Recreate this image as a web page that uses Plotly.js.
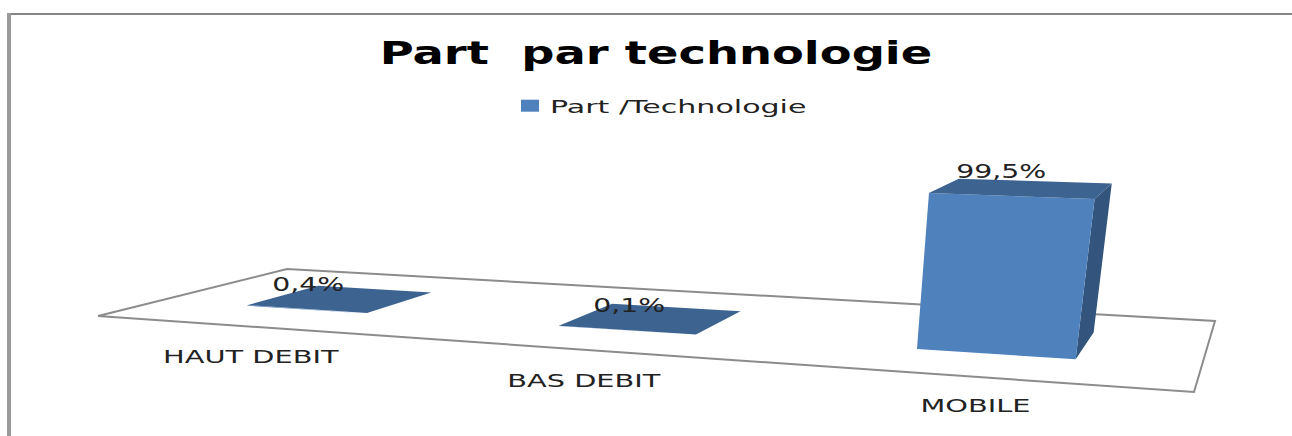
<!DOCTYPE html>
<html>
<head>
<meta charset="utf-8">
<script src="https://cdn.plot.ly/plotly-3.0.1.min.js"></script>
<style>
html,body{margin:0;padding:0;background:#fff}
#chart{width:1292px;height:436px}
.legend .scrollbox{clip-path:none !important}
</style>
</head>
<body>
<div id="chart"></div>
<script>
const categories = ['HAUT DEBIT', 'BAS DEBIT', 'MOBILE'];
const values = [0.4, 0.1, 99.5];
const valueLabels = ['0,4%', '0,1%', '99,5%'];
const seriesName = 'Part /Technologie';
const chartTitle = 'Part \u00a0par technologie';

// perspective of the 3-D floor
const floorCorners = [[98,316],[1194,392],[1215,321],[287,269]];
const vanish = [617,4248];
const barShare = 0.4, depthFront = 0.3, depthBack = 0.7;
// small screen offsets of the labels (right, down)
const valueNudge = [[-13,2],[0,3],[6,-1]];
const categoryNudge = [[3,-30],[0,-31],[1,-29]];

function homography(q){
  const [p0,p1,p2,p3] = q;
  const d1=[p1[0]-p2[0],p1[1]-p2[1]], d2=[p3[0]-p2[0],p3[1]-p2[1]];
  const S=[p0[0]-p1[0]+p2[0]-p3[0],p0[1]-p1[1]+p2[1]-p3[1]];
  const D=d1[0]*d2[1]-d2[0]*d1[1];
  const g=(S[0]*d2[1]-d2[0]*S[1])/D, h=(d1[0]*S[1]-S[0]*d1[1])/D;
  const a=p1[0]-p0[0]+g*p1[0], b=p3[0]-p0[0]+h*p3[0];
  const d=p1[1]-p0[1]+g*p1[1], e=p3[1]-p0[1]+h*p3[1];
  return (s,t)=>{const w=g*s+h*t+1;return [(a*s+b*t+p0[0])/w,(d*s+e*t+p0[1])/w];};
}
const H = homography(floorCorners);
const maxV = Math.max(...values);
// u: position along the category axis, t: depth, z: value
function project(u,t,z){
  const b = H(u/categories.length,t);
  const k = (0.04+(b[1]-349)*0.00012)*z/maxV;
  return [b[0]+(b[0]-vanish[0])*k, b[1]+(b[1]-vanish[1])*k];
}
function polys(faceFn){
  const x=[],y=[];
  values.forEach((v,i)=>{
    faceFn(i+0.5-barShare/2,i+0.5+barShare/2,v).forEach(p=>{x.push(p[0]);y.push(p[1]);});
    x.push(null);y.push(null);
  });
  return {x,y};
}
const face = (pts)=>pts.concat([pts[0]]);
const front = polys((l,r,v)=>face([project(l,depthFront,0),project(r,depthFront,0),project(r,depthFront,v),project(l,depthFront,v)]));
const side  = polys((l,r,v)=>face([project(r,depthFront,0),project(r,depthBack,0),project(r,depthBack,v),project(r,depthFront,v)]));
const top_  = polys((l,r,v)=>face([project(l,depthFront,v),project(r,depthFront,v),project(r,depthBack,v),project(l,depthBack,v)]));
const n = categories.length;
const floor = face([project(0,0,0),project(n,0,0),project(n,1,0),project(0,1,0)]);

const poly = (o,color)=>({x:o.x,y:o.y,type:'scatter',mode:'lines',fill:'toself',fillcolor:color,
  line:{width:0,color:color},hoverinfo:'skip',showlegend:false});
const traces = [
  {x:floor.map(p=>p[0]),y:floor.map(p=>p[1]),type:'scatter',mode:'lines',fill:'toself',fillcolor:'#ffffff',
   line:{width:2,color:'#8c8c8c'},hoverinfo:'skip',showlegend:false},
  poly(side,'#32547d'),
  poly(front,'#4f81bd'),
  poly(top_,'#3d6391'),
  {x:[null],y:[null],type:'bar',name:seriesName,marker:{color:'#4f81bd'},showlegend:true}
];

const annotations = [];
categories.forEach((c,i)=>{
  const p = project(i+0.5,0,0);
  annotations.push({x:p[0],y:p[1],xref:'x',yref:'y',text:c,showarrow:false,
    xshift:categoryNudge[i][0],yshift:categoryNudge[i][1],xanchor:'center',yanchor:'middle',
    font:{family:'DejaVu Sans',size:18,color:'#222'}});
  const q = project(i+0.5-0.07,0.5,values[i]);
  annotations.push({x:q[0],y:q[1],xref:'x',yref:'y',text:valueLabels[i],showarrow:false,
    xshift:valueNudge[i][0],yshift:15-valueNudge[i][1],xanchor:'center',yanchor:'middle',
    font:{family:'DejaVu Sans',size:19,color:'#222'}});
});

const layout = {
  width:1292,height:436,margin:{l:0,r:0,t:0,b:0},
  paper_bgcolor:'#fff',plot_bgcolor:'#fff',
  title:{text:chartTitle,x:656/1292,xanchor:'center',xref:'paper',y:1-53/436,yanchor:'middle',yref:'paper',
    font:{family:'DejaVu Sans',size:32,weight:700,color:'#000'}},
  xaxis:{range:[0,1292],visible:false,fixedrange:true},
  yaxis:{range:[436,0],visible:false,fixedrange:true},
  showlegend:true,
  legend:{x:510/1292,y:1-106/436,xanchor:'left',yanchor:'middle',bgcolor:'rgba(0,0,0,0)',
    font:{family:'DejaVu Sans',size:18,color:'#222'}},
  annotations,
  shapes:[
    {type:'line',xref:'paper',yref:'paper',x0:7/1292,x1:1,y0:1-14/436,y1:1-14/436,line:{color:'#868686',width:2}},
    {type:'line',xref:'paper',yref:'paper',x0:9/1292,x1:9/1292,y0:1-13/436,y1:0,line:{color:'#9a9a9a',width:4}}
  ]
};
// the reference picture is a horizontally stretched image: widen the real text the same way
function stretch(t,factor){
  const w=t.getComputedTextLength();
  t.setAttribute('textLength',w*factor);
  t.setAttribute('lengthAdjust','spacingAndGlyphs');
}
Plotly.newPlot('chart',traces,layout,{displayModeBar:false,staticPlot:true}).then(()=>{
  document.querySelectorAll('.gtitle').forEach(t=>stretch(t,1.45));
  document.querySelectorAll('.legendtext').forEach(t=>stretch(t,1.67));
  document.querySelectorAll('.annotation-text').forEach((t,i)=>stretch(t,i%2?1.49:1.6));
  document.querySelectorAll('.legendpoints path').forEach(p=>p.setAttribute('d','M9,6H-9V-6H9Z'));
});
</script>
</body>
</html>
